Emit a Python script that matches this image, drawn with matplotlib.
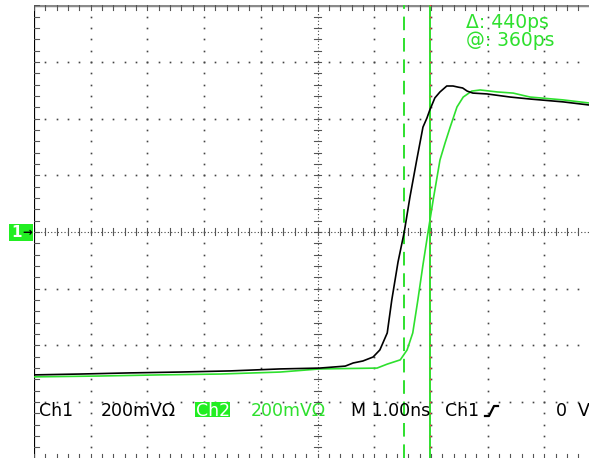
import numpy as np
import matplotlib
matplotlib.use('Agg')
import matplotlib.pyplot as plt
from matplotlib.patches import Rectangle
from matplotlib.lines import Line2D

# Ch1 (preto) - tempo em ns a partir da borda esquerda, tensao em mV
ch1_t = [0.00, 0.81, 1.69, 2.57, 3.46, 4.34, 5.04, 5.49, 5.63, 5.80, 5.98, 6.10, 6.23, 6.31,
         6.42, 6.53, 6.63, 6.75, 6.86, 6.93, 6.98, 7.07, 7.16, 7.28, 7.39, 7.48, 7.56, 7.64,
         7.74, 7.99, 8.40, 8.75, 9.33, 9.79]
ch1_v = [-504, -501, -497, -494, -490, -483, -480, -473, -462, -455, -441, -416, -356, -240,
         -106, 0, 123, 254, 370, 402, 430, 473, 494, 515, 515, 511, 508, 497,
         490, 487, 476, 469, 459, 448]

# Ch2 (verde)
ch2_t = [0.00, 1.16, 2.22, 3.28, 4.34, 5.04, 6.05, 6.23, 6.46, 6.58, 6.68, 6.77, 6.86, 6.95,
         7.04, 7.16, 7.25, 7.34, 7.46, 7.57, 7.72, 7.87, 8.17, 8.45, 8.75, 9.33, 9.79]
ch2_v = [-511, -508, -504, -501, -494, -483, -480, -466, -451, -416, -356, -240, -116, 0,
         113, 254, 314, 370, 441, 476, 497, 501, 494, 490, 476, 466, 455]

# cursores (ns)
cursor_a = 6.53
cursor_b = 6.98

cursor_lines = ['Δ: 440ps', '@: 360ps']
ch1_scale = '200mVΩ'
ch2_scale = '200mVΩ'
timebase = '1.00ns'
trig_level = '0  V'

W, H = 589, 458
DIV = 56.7  # pixels por divisao
GREEN = '#2ee02e'

fig = plt.figure(figsize=(W / 100, H / 100), dpi=100)
fig.patch.set_facecolor('white')


def px(x, y):
    return (x / W, 1 - y / H)


# eixo: esquerda em x=34px, topo em y=5px, centro vertical em y=232px
x_max = (W - 34) / DIV
y_top = (232 - 5) / DIV * 200
y_bot = (232 - H) / DIV * 200
ax = fig.add_axes([34 / W, 0, (W - 34) / W, (H - 5) / H])
ax.set_xlim(0, x_max)
ax.set_ylim(y_bot, y_top)
ax.axis('off')

# grade pontilhada
fine_x = np.arange(0, x_max + 0.01, 0.2)
fine_y = np.arange(-800, 801, 40)
for k in range(1, 10):
    if k == 5:
        continue
    ax.plot([k] * len(fine_y), fine_y, ls='none', marker='s', ms=1.2, color='#444444', mew=0)
for j in [-3, -2, -1, 1, 2, 3]:
    ax.plot(fine_x, [j * 200] * len(fine_x), ls='none', marker='s', ms=1.2, color='#444444', mew=0)

# linhas centrais com marcacoes
ax.axhline(0, color='#444444', lw=0.8, ls=(0, (1, 2)))
ax.axvline(5, color='#444444', lw=0.8, ls=(0, (1, 2)))
tick_x = 3.5 / DIV
tick_y = 3.5 / DIV * 200
for xv in fine_x:
    ax.plot([xv, xv], [-tick_y, tick_y], color='#555555', lw=0.8)
for yv in fine_y:
    ax.plot([5 - tick_x, 5 + tick_x], [yv, yv], color='#555555', lw=0.8)

# bordas
ax.plot([0, 0], [y_bot, y_top], color='black', lw=1.6)
ax.plot([0, x_max], [y_top, y_top], color='#8a8a8a', lw=2.5)
edge = 5 / DIV
for yv in fine_y:
    ax.plot([0, edge], [yv, yv], color='#555555', lw=0.8)
for xv in fine_x:
    ax.plot([xv, xv], [y_top, y_top - edge * 200], color='#555555', lw=0.8)
    ax.plot([xv, xv], [-800, -800 + edge * 200], color='#555555', lw=0.8)

# cursores
ax.axvline(cursor_a, color=GREEN, lw=1.4, ls=(0, (7, 4)))
ax.axvline(cursor_b, color=GREEN, lw=1.4)
ax.plot([cursor_b] * len(fine_y), fine_y, ls='none', marker='s', ms=1.0, color='#ff4040', mew=0)

# formas de onda
ax.plot(ch2_t, ch2_v, color=GREEN, lw=1.2)
ax.plot(ch1_t, ch1_v, color='black', lw=1.2)

# textos do cursor
fig.text(*px(466, 13), '\n'.join(cursor_lines), color=GREEN, fontsize=13.5, va='top', ha='left',
         linespacing=0.95)

# marcador do canal 1
fig.add_artist(Rectangle(px(9, 241), 24 / W, 17 / H, transform=fig.transFigure,
                         facecolor='#22ee22', edgecolor='none'))
fig.text(*px(11, 232.5), '1', color='white', fontsize=11, fontweight='bold', va='center',
         ha='left')
fig.text(*px(22, 232), '→', color='black', fontsize=8.5, fontweight='bold', va='center',
         ha='left')

# linha inferior de status
fs = 12.5
yb = 411
fig.text(*px(39, yb), 'Ch1', color='black', fontsize=fs, va='center', ha='left')
fig.text(*px(101, yb), ch1_scale, color='black', fontsize=fs, va='center', ha='left')
fig.add_artist(Rectangle(px(195, 417), 35 / W, 15 / H, transform=fig.transFigure,
                         facecolor='#22ee22', edgecolor='none'))
fig.text(*px(196, yb), 'Ch2', color='white', fontsize=fs, va='center', ha='left')
fig.text(*px(251, yb), ch2_scale, color=GREEN, fontsize=fs, va='center', ha='left')
fig.text(*px(351, yb), 'M ' + timebase, color='black', fontsize=fs, va='center', ha='left')
fig.text(*px(445, yb), 'Ch1', color='black', fontsize=fs, va='center', ha='left')
sx = [485, 489, 494, 498]
sy = [416, 416, 406, 406]
fig.add_artist(Line2D([v / W for v in sx], [1 - v / H for v in sy], transform=fig.transFigure,
                      color='black', lw=1.6))
fig.text(*px(556, yb), trig_level, color='black', fontsize=fs, va='center', ha='left')

fig.savefig('out.png', dpi=100, facecolor='white')
